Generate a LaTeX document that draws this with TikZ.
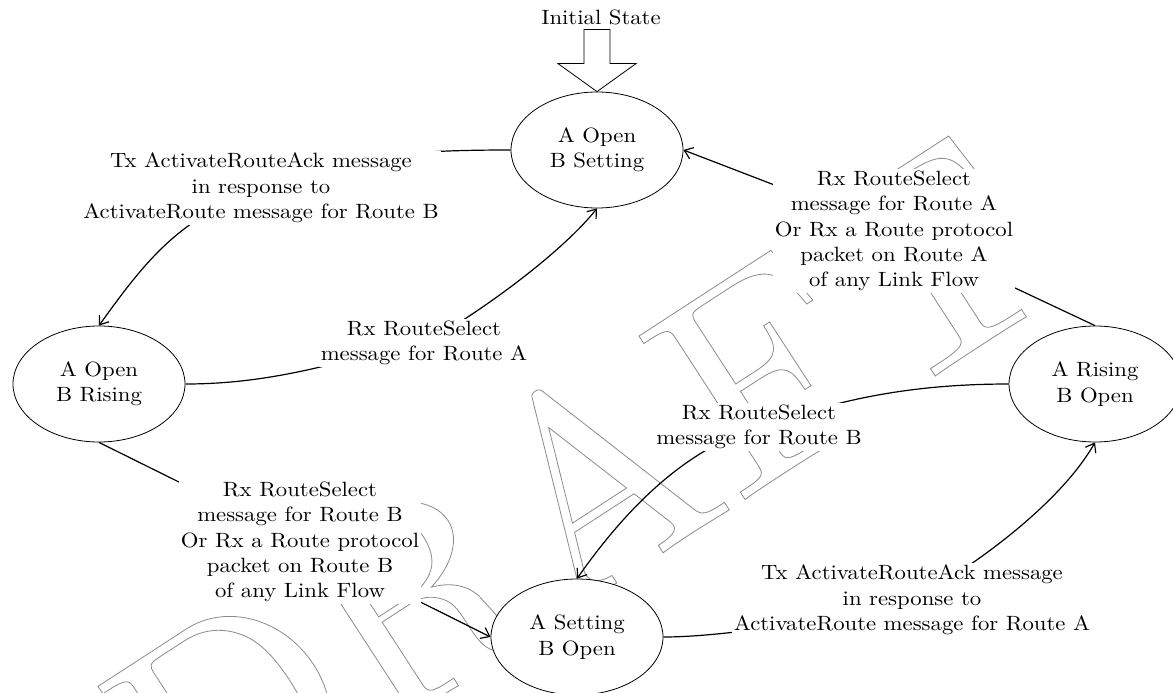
\documentclass[tikz,border=0pt]{standalone}
\usepackage{fontspec}
\setmainfont{lmroman10-regular.otf}
\newfontfamily\labelfont{lmroman10-regular.otf}[FakeStretch=1.1]
\newfontfamily\markfont{lmroman10-regular.otf}
\usetikzlibrary{shapes.geometric,arrows.meta}
\pgfdeclarelayer{mark}
\pgfdeclarelayer{wires}
\pgfsetlayers{mark,wires,main}
% outlined (stroked, unfilled) glyphs through the PDF text render mode
\newcommand\hollowtext[1]{\special{pdf:literal direct 1 Tr 0.6 w}#1\special{pdf:literal direct 0 Tr}}
\begin{document}
\begin{tikzpicture}[x=0.75pt,y=-0.75pt,
  txt/.style={font=\labelfont\fontsize{15.5}{19}\selectfont},
  state/.style={txt,ellipse,draw,line width=0.6pt,fill=white,minimum width=129pt,
    minimum height=87pt,inner sep=0pt,align=center},
  note/.style={txt,fill=white,align=center,inner sep=1.5pt},
  conn/.style={line width=0.9pt},
  arr/.style={conn,-{Straight Barb[length=6pt,width=9pt]}},
  hollow/.style={draw,line width=0.6pt,fill=white}]
\useasboundingbox (0,0) rectangle (1173,692);

% states
\node[state] (E1) at (597,150) {A Open\\B Setting};
\node[state] (E2) at (99,384)  {A Open\\B Rising};
\node[state] (E3) at (1095,384) {A Rising\\B Open};
\node[state] (E4) at (577,637) {A Setting\\B Open};

% transition labels
\node[note] (L0) at (601,17) {Initial State};
\node[note] (L1) at (261,188) {Tx ActivateRouteAck message\\in response to\\ActivateRoute message for Route B};
\node[note] (L2) at (424,343) {Rx RouteSelect\\message for Route A};
\node[note] (L3) at (300,542) {Rx RouteSelect\\message for Route B\\Or Rx a Route protocol\\packet on Route B\\of any Link Flow};
\node[note] (L4) at (894,231) {Rx RouteSelect\\message for Route A\\Or Rx a Route protocol\\packet on Route A\\of any Link Flow};
\node[note] (L5) at (759,427) {Rx RouteSelect\\message for Route B};
\node[note] (L6) at (912,600) {Tx ActivateRouteAck message\\in response to\\ActivateRoute message for Route A};

% initial-state arrow
\draw[hollow] (E1.north) -- ++(39,-28) -- ++(-26,0) -- ++(0,-34) -- ++(-26,0)
  -- ++(0,34) -- ++(-26,0) -- cycle;

% transitions (each passes under its label)
\begin{pgfonlayer}{wires}
\draw[arr] (E1.west) .. controls +(-120,0) and +(80,-30) .. (L1.center)
  .. controls +(-80,30) and +(50,-70) .. (E2.north);
\draw[arr] (E2.east) .. controls +(100,0) and +(-70,12) .. (L2.center)
  .. controls +(40,-20) and +(-40,50) .. (E1.south);
\draw[arr] (E2.south) -- (L3.center) -- (E4.west);
\draw[arr] (E3.north) -- (L4.center) -- (E1.east);
\draw[arr] (E3.west) .. controls +(-130,0) and +(50,-15) .. (L5.center)
  .. controls +(-50,15) and +(70,-100) .. (E4.north);
\draw[arr] (E4.east) .. controls +(60,0) and +(-80,20) .. (L6.center)
  .. controls +(40,-20) and +(-40,70) .. (E3.south);
\end{pgfonlayer}

% watermark
\begin{pgfonlayer}{mark}
\fill[white] (0,0) rectangle (1173,692);
\node[text=black!45,rotate=33,anchor=base,inner sep=0pt,
  font=\markfont\fontsize{215}{215}\selectfont] (WM) at (632,573) {\hollowtext{DRAFT}};
\end{pgfonlayer}
\end{tikzpicture}
\end{document}
